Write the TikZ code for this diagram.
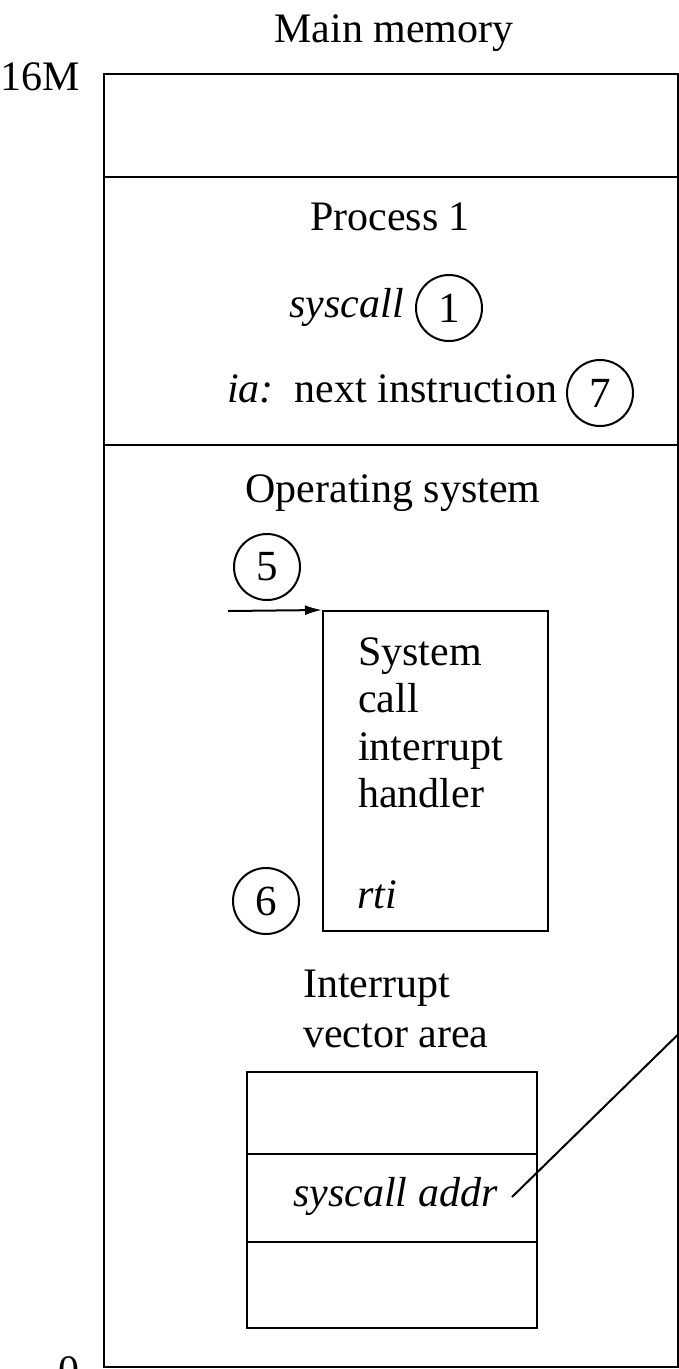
\documentclass[tikz,border=0pt]{standalone}
\usepackage{fontspec}
\setmainfont{Liberation Serif}
\usetikzlibrary{arrows.meta}
\tikzset{
  lw/.style={line width=2pt},
  region/.style={draw, lw, inner sep=0pt, anchor=center},
  txt/.style={inner sep=0pt, font=\fontsize{42}{50}\selectfont},
  itxt/.style={txt, font=\fontsize{42}{50}\selectfont\itshape},
  num/.style={draw, lw, circle, inner sep=0pt, minimum size=66pt, font=\fontsize{43}{50}\selectfont},
}
\begin{document}
\begin{tikzpicture}[x=1pt,y=-1pt]
\useasboundingbox (0,0) rectangle (679,1369);
% memory regions
\node[region, minimum width=573.5pt, minimum height=103pt] (top) at (390.75,125.5) {};
\node[region, minimum width=573.5pt, minimum height=268pt] (proc) at (390.75,311) {};
\node[region, minimum width=573.5pt, minimum height=922pt] (os) at (390.75,906) {};
% labels
\node[txt, anchor=base] (title) at (394,42) {Main memory};
\node[txt, anchor=base east] (hi) at (80,90) {16M};
\node[txt, anchor=base east] (lo) at (80,1384) {0};
% process 1
\node[txt, anchor=base] (p1) at (390,230) {Process 1};
\node[itxt, anchor=base east] (sc) at (404,317) {syscall};
\node[num] (c1) at (449,308) {1};
\node[txt, anchor=base west] (ia) at (227,402) {\textit{ia:}\ \ next instruction};
\node[num] (c7) at (600,393) {7};
% operating system
\node[txt, anchor=base] (ostitle) at (393,502) {Operating system};
\node[num] (c5) at (267,567) {5};
\node[region, minimum width=225pt, minimum height=320pt] (handler) at (435.5,771) {};
\node[txt, anchor=base west] (h1) at (358,665) {System};
\node[txt, anchor=base west] (h2) at (358,712) {call};
\node[txt, anchor=base west] (h3) at (358,760) {interrupt};
\node[txt, anchor=base west] (h4) at (358,807) {handler};
\node[itxt, anchor=base west] (rti) at (357,908) {rti};
\node[num] (c6) at (266,901) {6};
\coordinate (in5) at (228,611);
\draw[lw, -{Latex[length=17pt,width=10pt]}] (in5) -- (handler.north west);
% interrupt vector area
\node[txt, anchor=base west] (iv1) at (303,997) {Interrupt};
\node[txt, anchor=base west] (iv2) at (303,1047) {vector area};
\node[region, minimum width=290pt, minimum height=82pt] (v1) at (392,1113) {};
\node[region, minimum width=290pt, minimum height=88pt] (v2) at (392,1198) {};
\node[region, minimum width=290pt, minimum height=86pt] (v3) at (392,1285) {};
\node[itxt, anchor=base west] (sa) at (293,1206) {syscall addr};
\coordinate (sastart) at (512,1197);
\coordinate (saend) at (677.5,1035);
\draw[lw] (sastart) -- (saend);
\end{tikzpicture}
\end{document}
